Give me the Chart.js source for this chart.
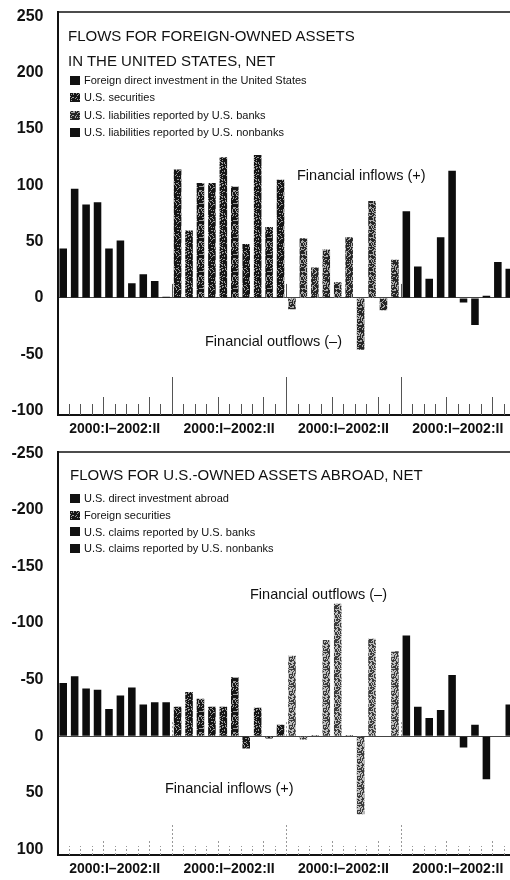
<!DOCTYPE html>
<html>
<head>
<meta charset="utf-8">
<script src="https://cdn.jsdelivr.net/npm/chart.js@4/dist/chart.umd.min.js"></script>
<style>
  body { margin: 0; overflow: hidden; background: #fff; font-family: "Liberation Sans", Arial, sans-serif; color: #111; }
  .panel { position: relative; width: 520px; height: 440px; }
  .panel canvas { position: absolute; left: 0; top: 0; }
  .txt { position: absolute; white-space: nowrap; }
  .title { font-size: 15px; line-height: 25px; }
  .legend { font-size: 11px; }
  .legend div { display: flex; align-items: center; }
  .legend i { display: inline-block; width: 10px; height: 9px; margin-right: 4px; background: #111; }
  .note { font-size: 14.5px; line-height: 18px; }
</style>
</head>
<body>
<div class="panel">
  <canvas id="foreignChart" width="520" height="440"></canvas>
  <div class="txt title" style="left:68px;top:23px">FLOWS FOR FOREIGN-OWNED ASSETS<br>IN THE UNITED STATES, NET</div>
  <div class="txt legend" id="foreignLegend" style="left:70px;top:72px;line-height:17.3px"></div>
  <div class="txt note" style="left:297px;top:166px">Financial inflows (+)</div>
  <div class="txt note" style="left:205px;top:332px">Financial outflows (&ndash;)</div>
</div>
<div class="panel">
  <canvas id="usChart" width="520" height="440"></canvas>
  <div class="txt title" style="left:70px;top:22px">FLOWS FOR U.S.-OWNED ASSETS ABROAD, NET</div>
  <div class="txt legend" id="usLegend" style="left:70px;top:50px;line-height:16.8px"></div>
  <div class="txt note" style="left:250px;top:145px">Financial outflows (&ndash;)</div>
  <div class="txt note" style="left:165px;top:339px">Financial inflows (+)</div>
</div>
<script>
// quarters inside each block, and the label printed under each block
const quarters = ['2000:I', '2000:II', '2000:III', '2000:IV', '2001:I', '2001:II', '2001:III', '2001:IV', '2002:I', '2002:II'];
const groupLabels = ['2000:I\u20132002:II', '2000:I\u20132002:II', '2000:I\u20132002:II', '2000:I\u20132002:II'];

// foreign-owned assets in the U.S., billions of dollars
const foreignDirectInvestment = [44, 97, 83, 85, 44, 51, 13, 21, 15, 1];
const usSecurities = [114, 60, 102, 102, 125, 99, 48, 127, 63, 105];
const liabilitiesBanks = [-10, 53, 27, 43, 14, 54, -46, 86, -11, 34];
const liabilitiesNonbanks = [77, 28, 17, 54, 113, -4, -24, 2, 32, 26];
const foreignTicks = [-100, -50, 0, 50, 100, 150, 200, 250];

// U.S.-owned assets abroad (negative = outflow)
const usDirectInvestmentAbroad = [-47, -53, -42, -41, -24, -36, -43, -28, -30, -30];
const foreignSecurities = [-26, -39, -33, -26, -26, -52, 11, -25, 2, -10];
const claimsBanks = [-71, 3, -1, -85, -117, -1, 69, -86, 0, -75];
const claimsNonbanks = [-89, -26, -16, -23, -54, 10, -10, 38, 0, -28];
const usTicks = [-250, -200, -150, -100, -50, 0, 50, 100];

const categories = groupLabels.flatMap(() => quarters);

// put a 10-quarter series into its block of the 40 slots
const placeInGroup = (values, g) =>
  categories.map((_, i) => Math.floor(i / quarters.length) === g ? values[i % quarters.length] : null);

// speckled screen like the printed bars (fixed hash, so it looks the same every run)
const speckleTile = (base, spot, density) => {
  const size = 17;
  const c = document.createElement('canvas');
  c.width = c.height = size;
  const g = c.getContext('2d');
  g.fillStyle = base;
  g.fillRect(0, 0, size, size);
  g.fillStyle = spot;
  for (let y = 0; y < size; y++) {
    for (let x = 0; x < size; x++) {
      let h = Math.imul(x + 1, 374761393) ^ Math.imul(y + 7, 668265263);
      h = Math.imul(h ^ (h >>> 13), 1274126177);
      h = (h ^ (h >>> 16)) >>> 0;
      if (h % 100 < density) g.fillRect(x, y, 1, 1);
    }
  }
  return c;
};
const toPattern = tile => tile.getContext('2d').createPattern(tile, 'repeat');

const darkTile = speckleTile('#151515', '#9a9a9a', 22);
const midTile = speckleTile('#262626', '#a8a8a8', 32);
const lightTile = speckleTile('#3c3c3c', '#bdbdbd', 42);

const frame = {
  id: 'frame',
  afterDatasetsDraw(chart, args, opts) {
    const { ctx, chartArea: a, scales: { x, y } } = chart;
    const zero = y.getPixelForValue(0);
    ctx.save();
    // top and bottom edges of the box
    ctx.strokeStyle = '#111';
    ctx.lineWidth = 1.5;
    ctx.beginPath();
    ctx.moveTo(a.left, a.top); ctx.lineTo(a.right, a.top);
    ctx.stroke();
    ctx.lineWidth = 2;
    ctx.beginPath();
    ctx.moveTo(a.left, a.bottom); ctx.lineTo(a.right, a.bottom);
    ctx.stroke();
    // small marks between quarters, taller at years and blocks
    ctx.strokeStyle = opts.tickColor;
    ctx.lineWidth = 1;
    ctx.setLineDash(opts.dash);
    for (let i = 1; i < categories.length; i++) {
      const px = Math.round((x.getPixelForValue(i - 1) + x.getPixelForValue(i)) / 2) + 0.5;
      const q = i % quarters.length;
      const len = q === 0 ? opts.blockTick : (q === 4 || q === 8) ? opts.yearTick : opts.quarterTick;
      ctx.beginPath();
      ctx.moveTo(px, a.bottom);
      ctx.lineTo(px, a.bottom - len);
      ctx.stroke();
      if (q === 0) {
        ctx.beginPath();
        ctx.moveTo(px, zero);
        ctx.lineTo(px, zero - 14);
        ctx.stroke();
      }
    }
    ctx.restore();
  }
};

function makeLegend(id, items) {
  document.getElementById(id).innerHTML = items.map(([label, tile]) =>
    `<div><i style="${tile ? `background-image:url(${tile.toDataURL()})` : ''}"></i>${label}</div>`
  ).join('');
}

function makePanel(canvasId, series, fills, tickValues, min, max, reverse, tickOpts) {
  new Chart(document.getElementById(canvasId), {
    type: 'bar',
    data: {
      labels: categories,
      datasets: series.map((values, g) => ({
        data: placeInGroup(values, g),
        backgroundColor: fills[g],
        borderWidth: 0,
        grouped: false,
        barPercentage: 0.66,
        categoryPercentage: 1
      }))
    },
    options: {
      responsive: false,
      animation: false,
      layout: { padding: { top: 12, right: 5, left: 0, bottom: 0 } },
      plugins: { legend: { display: false }, tooltip: { enabled: false }, frame: tickOpts },
      scales: {
        x: { display: false },
        xg: {
          type: 'category',
          position: 'bottom',
          labels: groupLabels,
          grid: { display: false, drawTicks: false },
          border: { display: false },
          ticks: { color: '#111', padding: 6, font: { family: 'Liberation Sans', size: 14, weight: 'bold' }, autoSkip: false, maxRotation: 0 },
          afterFit: s => { s.height = 25; s.paddingLeft = 0; s.paddingRight = 0; }
        },
        y: {
          min: min,
          max: max,
          reverse: reverse,
          afterBuildTicks: s => { s.ticks = tickValues.map(v => ({ value: v })); },
          afterFit: s => { s.width = 57.5; s.paddingTop = 0; s.paddingBottom = 0; },
          grid: { drawTicks: false, color: c => c.tick.value === 0 ? '#444' : 'rgba(0,0,0,0)' },
          border: { display: true, color: '#111', width: 2 },
          ticks: { color: '#111', padding: 14, font: { family: 'Liberation Sans', size: 16, weight: 'bold' } }
        }
      }
    },
    plugins: [frame]
  });
}

makePanel('foreignChart',
  [foreignDirectInvestment, usSecurities, liabilitiesBanks, liabilitiesNonbanks],
  ['#0d0d0d', toPattern(darkTile), toPattern(midTile), '#0d0d0d'],
  foreignTicks, -104, 254, false,
  { tickColor: '#555', dash: [], quarterTick: 11, yearTick: 18, blockTick: 38 });

makePanel('usChart',
  [usDirectInvestmentAbroad, foreignSecurities, claimsBanks, claimsNonbanks],
  ['#0d0d0d', toPattern(darkTile), toPattern(lightTile), '#0d0d0d'],
  usTicks, -251, 105, true,
  { tickColor: '#999', dash: [2, 2], quarterTick: 9, yearTick: 14, blockTick: 30 });

makeLegend('foreignLegend', [
  ['Foreign direct investment in the United States', null],
  ['U.S. securities', darkTile],
  ['U.S. liabilities reported by U.S. banks', midTile],
  ['U.S. liabilities reported by U.S. nonbanks', null]
]);
makeLegend('usLegend', [
  ['U.S. direct investment abroad', null],
  ['Foreign securities', darkTile],
  ['U.S. claims reported by U.S. banks', null],
  ['U.S. claims reported by U.S. nonbanks', null]
]);
</script>
</body>
</html>
